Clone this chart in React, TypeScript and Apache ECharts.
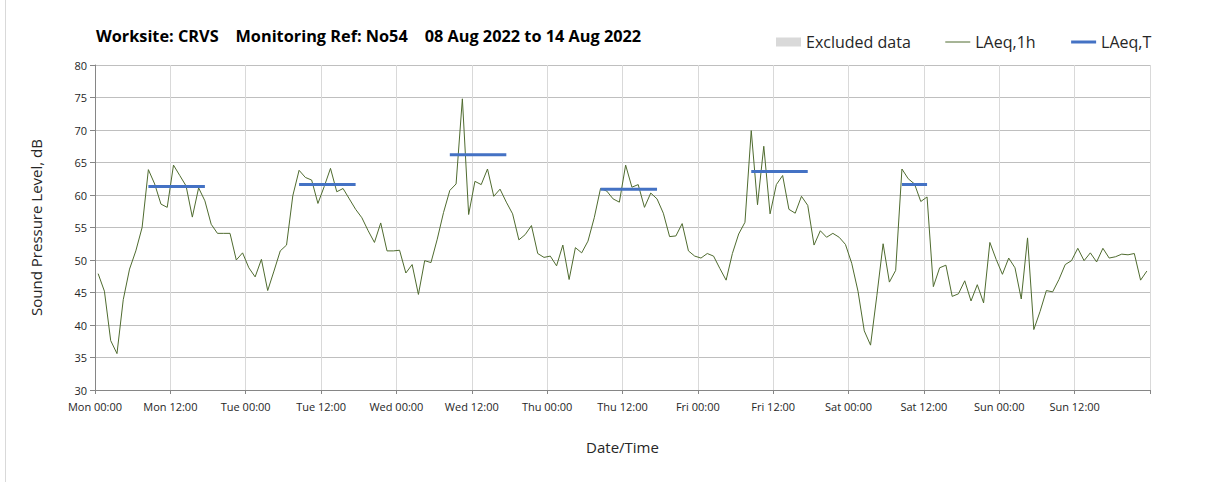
import React, { useEffect, useRef } from "react";
import * as echarts from "echarts";

const TITLE = "Worksite: CRVS    Monitoring Ref: No54    08 Aug 2022 to 14 Aug 2022";
const X_LABELS = [
  "Mon 00:00", "Mon 12:00", "Tue 00:00", "Tue 12:00", "Wed 00:00", "Wed 12:00",
  "Thu 00:00", "Thu 12:00", "Fri 00:00", "Fri 12:00", "Sat 00:00", "Sat 12:00",
  "Sun 00:00", "Sun 12:00",
];

// Hourly LAeq,1h values, hour 0 (Mon 00:00) to hour 167 (Sun 23:00)
const LAEQ_1H_MON = [47.9, 45.2, 37.6, 35.6, 43.9, 48.6, 51.4, 55.0, 63.9, 61.7, 58.6, 58.1, 64.6, 63.0, 61.4, 56.6, 61.1, 59.1, 55.5, 54.1, 54.1, 54.1, 50.0, 51.1];
const LAEQ_1H_TUE = [48.8, 47.4, 50.1, 45.3, 48.3, 51.4, 52.3, 59.9, 63.8, 62.7, 62.3, 58.7, 61.3, 64.1, 60.5, 61.0, 59.4, 57.8, 56.5, 54.5, 52.7, 55.7, 51.4, 51.4];
const LAEQ_1H_WED = [51.5, 48.0, 49.3, 44.7, 49.9, 49.6, 53.2, 57.3, 60.7, 61.7, 74.8, 57.0, 62.1, 61.6, 64.0, 59.8, 60.9, 58.9, 57.1, 53.1, 53.9, 55.3, 51.0, 50.4];
const LAEQ_1H_THU = [50.6, 49.1, 52.3, 47.0, 51.9, 51.1, 52.9, 56.5, 61.0, 60.6, 59.4, 58.9, 64.6, 61.2, 61.6, 58.1, 60.3, 59.4, 57.2, 53.6, 53.7, 55.6, 51.4, 50.6];
const LAEQ_1H_FRI = [50.3, 51.0, 50.6, 48.7, 46.9, 51.0, 54.0, 55.8, 69.9, 58.5, 67.5, 57.1, 61.6, 63.0, 57.8, 57.2, 59.8, 58.4, 52.3, 54.5, 53.5, 54.1, 53.5, 52.4];
const LAEQ_1H_SAT = [49.5, 45.2, 39.1, 36.9, 44.5, 52.5, 46.6, 48.4, 64.0, 62.5, 61.7, 59.0, 59.7, 45.9, 48.8, 49.2, 44.4, 44.8, 46.8, 43.7, 46.2, 43.4, 52.7, 50.1];
const LAEQ_1H_SUN = [47.8, 50.3, 48.8, 44.0, 53.4, 39.3, 42.1, 45.3, 45.1, 47.0, 49.3, 49.9, 51.8, 49.9, 51.1, 49.7, 51.8, 50.3, 50.5, 50.9, 50.8, 51.0, 46.9, 48.3];

// LAeq,T daytime periods: start hour, end hour (index of first/last hourly value), level
const LAEQ_T_START = [8, 32, 56, 80, 104, 128];
const LAEQ_T_END = [17, 41, 65, 89, 113, 132];
const LAEQ_T_VALUES = [61.3, 61.6, 66.2, 60.9, 63.6, 61.6];

const FONT = "'Open Sans', 'Noto Sans', sans-serif";

export default function App() {
  const ref = useRef<HTMLDivElement>(null);

  useEffect(() => {
    if (!ref.current) return;
    const chart = echarts.init(ref.current, null, { renderer: "svg" });

    const hourly = [
      ...LAEQ_1H_MON, ...LAEQ_1H_TUE, ...LAEQ_1H_WED, ...LAEQ_1H_THU,
      ...LAEQ_1H_FRI, ...LAEQ_1H_SAT, ...LAEQ_1H_SUN,
    ];
    const lineData = hourly.map((v, i) => [i + 0.5, v]);
    const tData: any[] = [];
    LAEQ_T_VALUES.forEach((v, i) => {
      tData.push([LAEQ_T_START[i] + 0.5, v]);
      tData.push([LAEQ_T_END[i] + 0.5, v]);
      tData.push([LAEQ_T_END[i] + 1, "-"]);
    });

    chart.setOption({
      animation: false,
      backgroundColor: "#ffffff",
      textStyle: { fontFamily: FONT },
      title: {
        text: TITLE,
        left: 91,
        top: 23,
        textStyle: { fontFamily: FONT, fontSize: 16.3, fontWeight: "bold", color: "#000000" },
      },
      legend: {
        left: 771,
        top: 29,
        itemGap: 34,
        itemWidth: 25,
        itemHeight: 9,
        textStyle: { fontFamily: FONT, fontSize: 16, color: "#262626" },
        data: [
          { name: "Excluded data", icon: "rect", itemStyle: { color: "#d9d9d9" } },
          { name: "LAeq,1h", itemStyle: { opacity: 0 }, lineStyle: { width: 1, color: "#4f6b2f" } },
          { name: "LAeq,T", itemStyle: { opacity: 0 }, lineStyle: { width: 3, color: "#4472c4" } },
        ],
      },
      grid: { left: 95, right: 58, top: 65, bottom: 92, containLabel: false },
      xAxis: {
        type: "value",
        min: 0,
        max: 168,
        interval: 12,
        name: "Date/Time",
        nameLocation: "middle",
        nameGap: 49,
        nameTextStyle: { fontFamily: FONT, fontSize: 15, color: "#262626" },
        axisLine: { show: true, lineStyle: { color: "#868686", width: 1 } },
        axisTick: { show: true, length: 4, lineStyle: { color: "#868686" } },
        axisLabel: {
          fontFamily: FONT,
          fontSize: 11,
          color: "#262626",
          margin: 11,
          formatter: (v: number) => X_LABELS[Math.round(v / 12)] ?? "",
        },
        splitLine: { show: true, lineStyle: { color: "#d9d9d9", width: 1 } },
      },
      yAxis: {
        type: "value",
        min: 30,
        max: 80,
        interval: 5,
        name: "Sound Pressure Level, dB",
        nameLocation: "middle",
        nameGap: 52,
        nameTextStyle: { fontFamily: FONT, fontSize: 15, color: "#262626" },
        axisLine: { show: true, lineStyle: { color: "#868686", width: 1 } },
        axisTick: { show: true, inside: false, length: 5, lineStyle: { color: "#868686" } },
        axisLabel: { fontFamily: FONT, fontSize: 11, color: "#262626", margin: 8 },
        splitLine: { show: true, lineStyle: { color: "#bfbfbf", width: 1 } },
      },
      series: [
        {
          name: "Excluded data",
          type: "bar",
          data: [],
          itemStyle: { color: "#d9d9d9" },
        },
        {
          name: "LAeq,1h",
          type: "line",
          data: lineData,
          showSymbol: false,
          symbol: "none",
          lineStyle: { color: "#4f6b2f", width: 1 },
          itemStyle: { color: "#4f6b2f" },
          z: 3,
        },
        {
          name: "LAeq,T",
          type: "line",
          data: tData,
          showSymbol: false,
          symbol: "none",
          connectNulls: false,
          lineStyle: { color: "#4472c4", width: 3 },
          itemStyle: { color: "#4472c4" },
          z: 4,
        },
      ],
      graphic: [
        {
          type: "line",
          shape: { x1: 5.5, y1: 0, x2: 5.5, y2: 482 },
          style: { stroke: "#d9d9d9", lineWidth: 1 },
        },
        {
          type: "line",
          shape: { x1: 1150.5, y1: 65, x2: 1150.5, y2: 390 },
          style: { stroke: "#bfbfbf", lineWidth: 1 },
        },
      ],
    });

    return () => chart.dispose();
  }, []);

  return (
    <div
      ref={ref}
      style={{ position: "absolute", left: 0, top: 0, width: 1208, height: 482, background: "#fff" }}
    />
  );
}
